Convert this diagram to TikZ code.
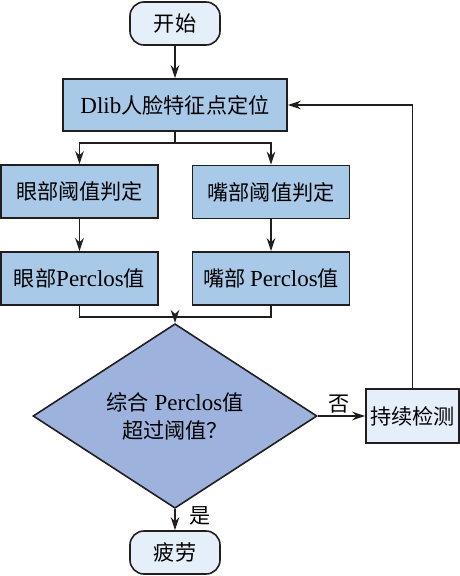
\documentclass[tikz,border=0pt]{standalone}
\usepackage{fontspec}
\setmainfont{Liberation Serif}
\newfontfamily\cjk[Scale=0.92]{Noto Sans CJK SC}
\usetikzlibrary{shapes.geometric,arrows.meta}
\definecolor{linec}{RGB}{35,30,30}
\definecolor{boxc}{RGB}{169,201,233}
\definecolor{diac}{RGB}{157,178,220}
\definecolor{lightc}{RGB}{228,239,249}
\begin{document}
\begin{tikzpicture}[x=1pt,y=-1pt,
  base/.style={draw=linec, line width=1.6pt, inner sep=0pt, align=center,
    font=\fontsize{23}{28}\selectfont},
  box/.style={base, fill=boxc, minimum width=157pt, minimum height=53pt},
  term/.style={base, fill=lightc, rounded corners=14pt, minimum width=90pt, minimum height=43pt},
  decide/.style={base, fill=diac, diamond, minimum width=284pt, minimum height=144pt},
  conn/.style={draw=linec, line width=1.5pt},
  arr/.style={conn, -{Stealth[length=13pt,width=8.5pt,inset=4pt]}},
  lbl/.style={font=\fontsize{23}{28}\selectfont, inner sep=2pt}
]
\useasboundingbox (0,0) rectangle (460,576);

\node[term] (start) at (175,23.5) {\cjk 开始};
\node[box, minimum width=224pt, minimum height=52pt] (dlib) at (175,105) {Dlib\cjk 人脸特征点定位};
\node[box] (eyej) at (79.5,191.5) {\cjk 眼部阈值判定};
\node[box] (mouthj) at (271,192) {\cjk 嘴部阈值判定};
\node[box] (eyep) at (79.5,278.5) {\cjk 眼部\rm Perclos\cjk 值};
\node[box] (mouthp) at (271,278.5) {\cjk 嘴部 \rm Perclos\cjk 值};
\node[decide] (dia) at (175,416) {{\cjk 综合} Perclos{\cjk 值}\\{\cjk 超过阈值？}};
\node[base, fill=lightc, minimum width=93pt, minimum height=54pt] (cont) at (412.5,416) {\cjk 持续检测};
\node[term] (tired) at (175,552.5) {\cjk 疲劳};

\coordinate (split) at (175,143);
\coordinate (merge) at (175,317);

\draw[arr] (start) -- (dlib);
\draw[conn] (dlib) -- (split);
\draw[arr] (split) -| (eyej);
\draw[arr] (split) -| (mouthj);
\draw[arr] (eyej) -- (eyep);
\draw[arr] (mouthj) -- (mouthp);
\draw[conn] (eyep) |- (merge);
\draw[conn] (mouthp) |- (merge);
\draw[arr] (merge) -- (dia);
\draw[arr] (dia) -- node[lbl, above, pos=0.45]{\cjk 否} (cont);
\draw[arr] (cont) |- (dlib);
\draw[arr] (dia) -- node[lbl, right, pos=0.3, xshift=12pt]{\cjk 是} (tired);
\end{tikzpicture}
\end{document}
